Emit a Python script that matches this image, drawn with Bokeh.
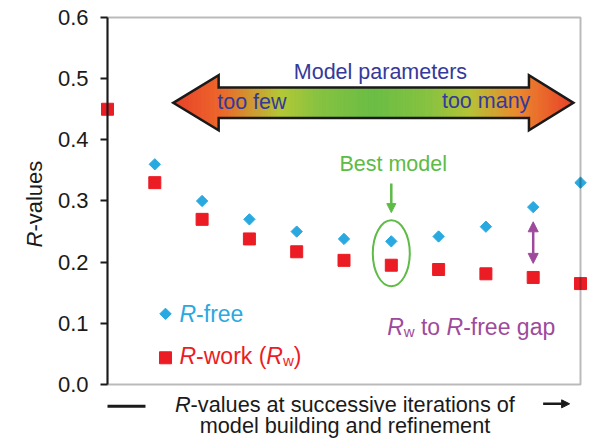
import numpy as np
from bokeh.plotting import figure
from bokeh.models import (Range1d, FixedTicker, PrintfTickFormatter, Label,
                          BoxAnnotation, Arrow, NormalHead)
from bokeh.embed import file_html
from bokeh.resources import INLINE

# ---- data -------------------------------------------------------------
iteration = [0, 1, 2, 3, 4, 5, 6, 7, 8, 9, 10]
r_work = [0.450, 0.330, 0.270, 0.238, 0.217, 0.203, 0.195, 0.188, 0.181, 0.175, 0.165]
free_iteration = [1, 2, 3, 4, 5, 6, 7, 8, 9, 10]
r_free = [0.360, 0.300, 0.270, 0.250, 0.238, 0.234, 0.242, 0.258, 0.290, 0.330]
y_ticks = [0.0, 0.1, 0.2, 0.3, 0.4, 0.5, 0.6]
best_index = 6      # iteration singled out as the best model
gap_index = 9       # iteration where the R-work / R-free gap is marked

# ---- layout / styling -------------------------------------------------
W, H = 591, 439
PLOT_LEFT, PLOT_BOTTOM = 107, 384   # pixel position of (0, 0)
PX_X, PX_Y = 47.3, 611.67           # pixels per data unit
FONT = "Liberation Sans"
BLUE = "#29A9E0"
RED = "#EC1C24"
PURPLE = "#9E4A9C"
GREEN = "#5DBB46"
INDIGO = "#35399B"
BLACK = "#1a1a1a"
BASE_FIX = 8.0       # px nudge so Label baselines sit where intended

# advance widths (per 1000 em) for Arial-metric text, used to butt
# italic / subscript pieces against their neighbours
ADV = {' ': 278, '-': 333, '(': 333, ')': 333, 'R': 722, 'a': 556, 'b': 556,
       'c': 500, 'd': 556, 'e': 556, 'f': 278, 'g': 556, 'i': 222, 'k': 500,
       'l': 222, 'm': 833, 'n': 556, 'o': 556, 'p': 556, 'r': 333, 's': 500,
       't': 278, 'u': 556, 'v': 500, 'w': 722, 'y': 500}
SUB_SCALE = 0.65


def text_width(s, size):
    return sum(ADV.get(c, 556) for c in s) * size / 1000.0


# the frame spans the whole canvas; the box, axis and captions sit inside it
p = figure(width=W, height=H,
           x_range=Range1d(-PLOT_LEFT / PX_X, (W - PLOT_LEFT) / PX_X),
           y_range=Range1d(-(H - PLOT_BOTTOM) / PX_Y, PLOT_BOTTOM / PX_Y),
           output_backend="svg", toolbar_location=None,
           x_axis_location=None, min_border=0)
p.outline_line_color = None
p.grid.visible = False
p.background_fill_color = "white"
p.border_fill_color = "white"


def label(x, y, text, size, color, align="left", style="normal", angle=0.0,
          dx=0.0, dy=0.0):
    if angle:
        x = x - BASE_FIX / PX_X
    else:
        y = y + BASE_FIX / PX_Y
    p.add_layout(Label(x=x, y=y, x_offset=dx, y_offset=dy, text=text,
                       angle=angle, text_font=FONT,
                       text_font_size=f"{size:.1f}px", text_font_style=style,
                       text_color=color, text_align=align,
                       text_baseline="alphabetic"))


def rich(parts, x, y, size, color, align="left"):
    """Lay out a run of (text, kind) pieces; kind is normal/italic/sub."""
    sizes = [size * SUB_SCALE if k == "sub" else size for _, k in parts]
    widths = [text_width(t, s) for (t, _), s in zip(parts, sizes)]
    off = -sum(widths) / 2 if align == "center" else 0.0
    for (txt, kind), s, w in zip(parts, sizes, widths):
        lead = len(txt) - len(txt.lstrip(" "))
        body = txt.strip(" ")
        label(x, y, body, s, color,
              style="italic" if kind == "italic" else "normal",
              dx=off + text_width(" " * lead, s),
              dy=-5 if kind == "sub" else 0)
        off += w


# ---- plot box ----------------------------------------------------------
p.add_layout(BoxAnnotation(left=0, right=10, bottom=0, top=0.6,
                           fill_alpha=0, line_color=BLACK, line_width=2))

# ---- y axis ------------------------------------------------------------
ax = p.yaxis[0]
ax.fixed_location = 0
ax.ticker = FixedTicker(ticks=y_ticks)
ax.formatter = PrintfTickFormatter(format="%.1f")
ax.bounds = (0, 0.6)
ax.axis_line_width = 2
ax.axis_line_color = BLACK
ax.major_tick_line_width = 2
ax.major_tick_line_color = BLACK
ax.major_tick_out = 7
ax.major_tick_in = 0
ax.minor_tick_line_color = None
ax.major_label_standoff = 12
ax.major_label_text_font = FONT
ax.major_label_text_font_size = "22px"
ax.major_label_text_color = BLACK

# rotated axis title "R-values"
ylab_x, ylab_y, ylab_size = -1.374, 0.224, 22
label(ylab_x, ylab_y, "R", ylab_size, BLACK, style="italic", angle=np.pi / 2)
label(ylab_x, ylab_y + text_width("R", ylab_size) / PX_Y, "-values",
      ylab_size, BLACK, angle=np.pi / 2)

# ---- gradient double arrow ("Model parameters") -----------------------
tip_l, base_l, base_r, tip_r = 1.39, 2.35, 8.91, 9.85
yc, head_half, shaft_half = 0.4605, 0.045, 0.025
stops = [(0.00, "#E8412A"), (0.12, "#EC672B"), (0.27, "#B4C836"),
         (0.36, "#88C240"), (0.50, "#6ABD45"), (0.64, "#88C240"),
         (0.74, "#B4C336"), (0.86, "#EA8A2E"), (1.00, "#E8412A")]


def hex_rgb(h):
    return np.array([int(h[i:i + 2], 16) for i in (1, 3, 5)], dtype=float)


def grad(t):
    for (t0, c0), (t1, c1) in zip(stops[:-1], stops[1:]):
        if t <= t1:
            f = (t - t0) / (t1 - t0)
            c = hex_rgb(c0) * (1 - f) + hex_rgb(c1) * f
            return "#%02x%02x%02x" % tuple(int(round(v)) for v in c)
    return stops[-1][1]


def half_height(x, side):
    if side == "l":
        return head_half * (x - tip_l) / (base_l - tip_l)
    if side == "r":
        return head_half * (tip_r - x) / (tip_r - base_r)
    return shaft_half


strip_xs, strip_ys, strip_cols = [], [], []
for a, b, side, n in [(tip_l, base_l, "l", 40), (base_l, base_r, "s", 260),
                      (base_r, tip_r, "r", 40)]:
    edges = np.linspace(a, b, n + 1)
    for x0, x1 in zip(edges[:-1], edges[1:]):
        h0, h1 = half_height(x0, side), half_height(x1, side)
        strip_xs.append([x0, x1, x1, x0])
        strip_ys.append([yc - h0, yc - h1, yc + h1, yc + h0])
        strip_cols.append(grad(((x0 + x1) / 2 - tip_l) / (tip_r - tip_l)))
p.patches(strip_xs, strip_ys, fill_color=strip_cols, line_color=strip_cols,
          line_width=1)
p.patch([tip_l, base_l, base_l, base_r, base_r, tip_r, base_r, base_r, base_l, base_l, tip_l],
        [yc, yc + head_half, yc + shaft_half, yc + shaft_half, yc + head_half, yc,
         yc - head_half, yc - shaft_half, yc - shaft_half, yc - head_half, yc],
        fill_color=None, line_color=BLACK, line_width=2.5, line_join="miter")

label(5.77, 0.498, "Model parameters", 21.5, INDIGO, align="center")
label(2.32, 0.448, "too few", 21.5, INDIGO)
label(8.94, 0.4496, "too many", 21.5, INDIGO, align="right")

# ---- data series -------------------------------------------------------
p.scatter(free_iteration, r_free, marker="square", size=8, angle=np.pi / 4,
          fill_color=BLUE, line_color=BLUE)
p.scatter(iteration, r_work, marker="square", size=12,
          fill_color=RED, line_color=RED)

# ---- best-model callout ------------------------------------------------
best_mid = (r_free[free_iteration.index(best_index)] + r_work[best_index]) / 2
p.ellipse(x=best_index, y=best_mid, width=37, height=66,
          width_units="screen", height_units="screen",
          fill_color=None, line_color=GREEN, line_width=2)
p.add_layout(Arrow(x_start=best_index, y_start=0.3285,
                   x_end=best_index, y_end=0.281,
                   line_color=GREEN, line_width=2.5,
                   end=NormalHead(size=9, fill_color=GREEN, line_color=GREEN)))
label(best_index + 0.04, 0.347, "Best model", 21.5, GREEN, align="center")

# ---- gap callout -------------------------------------------------------
gap_free = r_free[free_iteration.index(gap_index)]
gap_work = r_work[gap_index]
p.add_layout(Arrow(x_start=gap_index, y_start=gap_work + 0.023,
                   x_end=gap_index, y_end=gap_free - 0.024,
                   line_color=PURPLE, line_width=2.5,
                   start=NormalHead(size=10, fill_color=PURPLE, line_color=PURPLE),
                   end=NormalHead(size=10, fill_color=PURPLE, line_color=PURPLE)))
rich([("R", "italic"), ("w", "sub"), (" to ", "normal"), ("R", "italic"),
      ("-free gap", "normal")], 5.913, 0.0813, 23, PURPLE)

# ---- legend ------------------------------------------------------------
leg_x, leg_free_y, leg_work_y = 1.226, 0.1156, 0.0437
p.scatter([leg_x], [leg_free_y], marker="square", size=8, angle=np.pi / 4,
          fill_color=BLUE, line_color=BLUE)
p.scatter([leg_x], [leg_work_y], marker="square", size=12,
          fill_color=RED, line_color=RED)
rich([("R", "italic"), ("-free", "normal")], 1.522, 0.1019, 23, BLUE)
rich([("R", "italic"), ("-work (", "normal"), ("R", "italic"), ("w", "sub"),
      (")", "normal")], 1.522, 0.0338, 23, RED)

# ---- x-axis caption ----------------------------------------------------
p.add_layout(Arrow(x_start=0, y_start=-0.0355, x_end=0.803, y_end=-0.0355,
                   line_color=BLACK, line_width=3, end=None))
p.add_layout(Arrow(x_start=9.21, y_start=-0.0316, x_end=9.77, y_end=-0.0316,
                   line_color=BLACK, line_width=2.5,
                   end=NormalHead(size=8, fill_color=BLACK, line_color=BLACK)))
rich([("R", "italic"), ("-values at successive iterations of", "normal")],
     5.021, -0.0458, 21.7, BLACK, align="center")
label(5.021, -0.0795, "model building and refinement", 21.7, BLACK,
      align="center")

open("out.html", "w").write(file_html(p, INLINE))
